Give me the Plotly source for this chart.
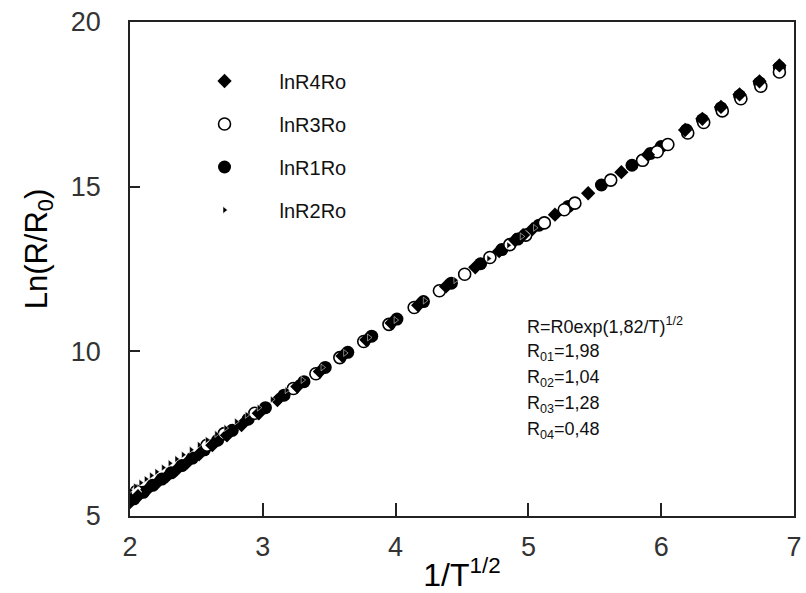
import plotly.graph_objects as go

# ln(R/R0) versus 1/T^(1/2) for four samples
x_r1 = [2.03, 2.10, 2.17, 2.24, 2.31, 2.39, 2.47, 2.56, 2.66, 2.77, 2.89, 3.02, 3.16, 3.31,
        3.47, 3.64, 3.82, 4.01, 4.21, 4.42, 4.64, 4.80, 4.92, 5.08, 5.30, 5.55, 5.78, 5.92,
        6.00, 6.19, 6.31, 6.45, 6.59, 6.74, 6.89]
y_r1 = [5.52, 5.72, 5.93, 6.12, 6.31, 6.53, 6.76, 7.01, 7.30, 7.60, 7.94, 8.29, 8.67, 9.08,
        9.51, 9.97, 10.46, 10.98, 11.51, 12.07, 12.66, 13.09, 13.41, 13.83, 14.40, 15.05, 15.65, 16.01,
        16.22, 16.72, 17.03, 17.39, 17.76, 18.15, 18.62]

x_r3 = [2.05, 2.58, 2.71, 2.94, 3.23, 3.40, 3.58, 3.76, 3.95, 4.14, 4.33, 4.52, 4.71, 4.86,
        4.98, 5.12, 5.27, 5.35, 5.62, 5.86, 5.97, 6.05, 6.20, 6.32, 6.46, 6.60, 6.75, 6.89]
y_r3 = [5.75, 7.15, 7.50, 8.12, 8.87, 9.32, 9.81, 10.30, 10.82, 11.33, 11.84, 12.34, 12.85, 13.24,
        13.53, 13.90, 14.30, 14.50, 15.20, 15.80, 16.06, 16.28, 16.63, 16.95, 17.30, 17.67, 18.05, 18.48]

x_r4 = [2.00, 2.06, 2.13, 2.20, 2.28, 2.35, 2.43, 2.52, 2.62, 2.73, 2.84, 2.97, 3.11, 3.26,
        3.43, 3.60, 3.78, 3.97, 4.17, 4.38, 4.60, 4.78, 4.90, 4.96, 5.03, 5.20, 5.45, 5.70,
        5.90, 6.18, 6.31, 6.45, 6.59, 6.74, 6.89]
y_r4 = [5.42, 5.60, 5.80, 5.99, 6.21, 6.40, 6.62, 6.87, 7.15, 7.45, 7.76, 8.12, 8.52, 8.93,
        9.39, 9.86, 10.35, 10.86, 11.40, 11.97, 12.55, 13.04, 13.38, 13.53, 13.71, 14.15, 14.80, 15.44,
        15.97, 16.72, 17.06, 17.42, 17.80, 18.20, 18.68]

x_r2 = [2.00, 2.04, 2.08, 2.12, 2.16, 2.20, 2.25, 2.30, 2.35, 2.40, 2.46, 2.52, 2.58, 2.65,
        2.72, 2.80, 2.88, 2.97, 3.07, 3.18, 3.30, 3.45, 3.62, 3.80, 4.00, 4.22, 4.45, 4.70,
        4.85, 4.95, 5.05]
y_r2 = [5.78, 5.90, 6.01, 6.12, 6.23, 6.34, 6.47, 6.60, 6.73, 6.86, 7.01, 7.16, 7.31, 7.49,
        7.67, 7.87, 8.07, 8.29, 8.54, 8.82, 9.13, 9.51, 9.95, 10.42, 10.95, 11.54, 12.16, 12.82,
        13.22, 13.49, 13.75]

x_ticks = [2, 3, 4, 5, 6, 7]
y_ticks = [5, 10, 15, 20]

fit_lines = [
    "R=R0exp(1,82/T)<sup>1/2</sup>",
    "R<sub>01</sub>=1,98",
    "R<sub>02</sub>=1,04",
    "R<sub>03</sub>=1,28",
    "R<sub>04</sub>=0,48",
]

FONT = "Liberation Sans, Arial, sans-serif"

fig = go.Figure()
fig.add_trace(go.Scatter(x=x_r1, y=y_r1, mode="markers", name="lnR1Ro", legendrank=3,
                         legendgroup="r1",
                         marker=dict(symbol="circle", size=13, color="black",
                                     line=dict(width=0))))
fig.add_trace(go.Scatter(x=x_r3, y=y_r3, mode="markers", name="lnR3Ro", legendrank=2,
                         legendgroup="r3",
                         marker=dict(symbol="circle", size=12, color="white",
                                     line=dict(width=1.6, color="black"))))
fig.add_trace(go.Scatter(x=x_r4, y=y_r4, mode="markers", name="lnR4Ro", legendrank=1,
                         legendgroup="r4",
                         marker=dict(symbol="diamond", size=11, color="black",
                                     line=dict(width=0))))
fig.add_trace(go.Scatter(x=x_r2, y=y_r2, mode="markers", name="lnR2Ro", legendrank=4,
                         legendgroup="r2",
                         marker=dict(symbol="triangle-right", size=6, color="black",
                                     line=dict(width=0.5, color="white"))))

x0, x1 = 130, 802
y0, y1 = 22, 522
for i, txt in enumerate(fit_lines):
    py = [329, 357, 383, 409, 435][i]
    fig.add_annotation(text=txt, xref="paper", yref="paper",
                       x=(530 - x0) / (x1 - x0), y=(y1 - py) / (y1 - y0),
                       xanchor="left", yanchor="middle", showarrow=False,
                       font=dict(family=FONT, size=18, color="#111"))

# y-axis title placed as a rotated label
fig.add_annotation(text="Ln(R/R<sub>0</sub>)", xref="paper", yref="paper",
                   x=(38 - x0) / (x1 - x0), y=(y1 - 252) / (y1 - y0),
                   xanchor="center", yanchor="middle", textangle=-90, showarrow=False,
                   font=dict(family=FONT, size=31, color="black"))

axis_common = dict(showline=True, linecolor="#222", linewidth=1.5, mirror=True,
                   ticks="inside", tickcolor="#222", showgrid=False, zeroline=False,
                   ticklabeloverflow="allow",
                   tickfont=dict(family=FONT, size=27, color="#333"))

fig.update_xaxes(range=[2, 7], tickvals=x_ticks, ticklen=13, tickwidth=1.5,
                 ticklabelstandoff=6,
                 title=dict(text="1/T<sup>1/2</sup>", standoff=4,
                            font=dict(family=FONT, size=32, color="black")),
                 **axis_common)
fig.update_yaxes(range=[5, 20], tickvals=y_ticks, ticklen=10, tickwidth=1.5,
                 ticklabelstandoff=22,
                 **axis_common)

fig.update_layout(
    width=806, height=593,
    margin=dict(l=x0, r=806 - x1, t=y0, b=593 - y1),
    paper_bgcolor="white", plot_bgcolor="white",
    showlegend=True,
    legend=dict(x=(170 - x0) / (x1 - x0), y=(y1 - 62) / (y1 - y0),
                xanchor="left", yanchor="top", bgcolor="rgba(0,0,0,0)",
                traceorder="grouped", tracegroupgap=14, itemwidth=100,
                font=dict(family=FONT, size=20, color="#111")),
)

fig.write_html("out.html")
